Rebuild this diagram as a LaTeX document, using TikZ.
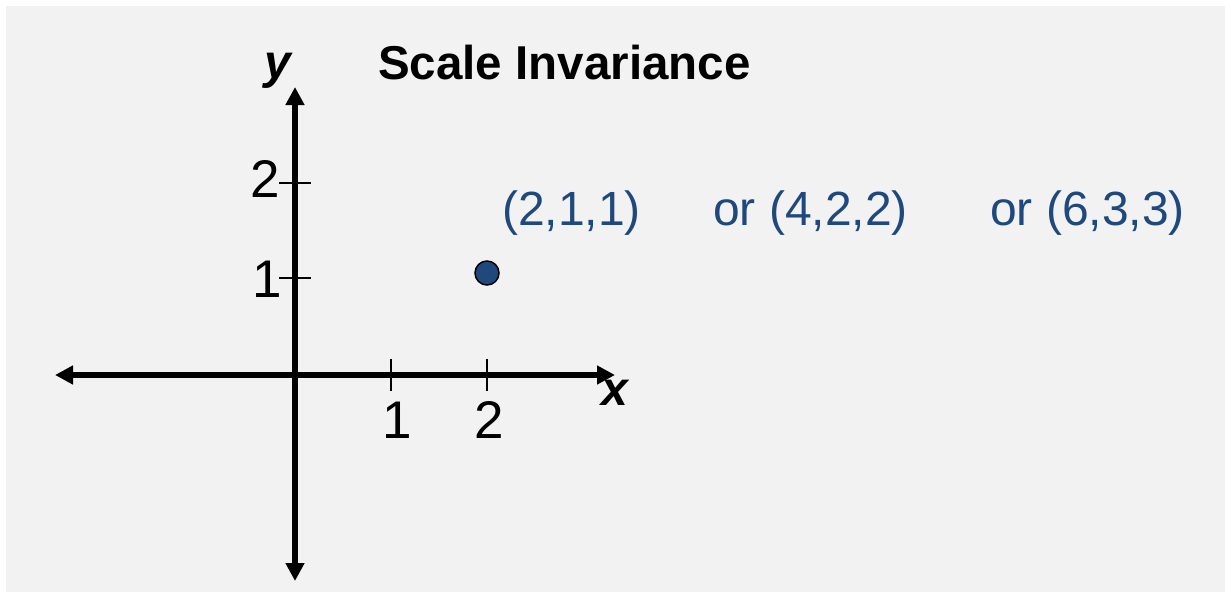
\documentclass[tikz,border=0pt]{standalone}
\usepackage{fontspec}
\setmainfont{Liberation Sans}
\usetikzlibrary{arrows.meta}
\definecolor{bggray}{HTML}{F2F2F2}
\definecolor{ptblue}{HTML}{1F497D}
\tikzset{
  axisline/.style={line width=5.5pt,{Triangle[length=18pt,width=18pt]}-{Triangle[length=18pt,width=18pt]}},
  tickline/.style={line width=2pt},
  numlabel/.style={inner sep=0pt,font=\fontsize{53}{56}\selectfont},
  axislabel/.style={inner sep=0pt,font=\fontsize{48}{52}\selectfont\bfseries\itshape},
  bluetext/.style={inner sep=0pt,anchor=base west,text=ptblue,font=\fontsize{48}{52}\selectfont},
  pointdot/.style={circle,minimum size=24pt,inner sep=0pt,fill=ptblue,draw=black,line width=1.5pt}
}
\begin{document}
\begin{tikzpicture}[x=1pt,y=-1pt]
\useasboundingbox (0,0) rectangle (1225,592);
\fill[bggray] (6,6) rectangle (1225,592);
% axes
\coordinate (ytop) at (295,87);
\coordinate (ybot) at (295,581);
\coordinate (xleft) at (55,375);
\coordinate (xright) at (615,375);
\draw[axisline] (ybot) -- (ytop);
\draw[axisline] (xleft) -- (xright);
% ticks
\coordinate (tx1a) at (391,359); \coordinate (tx1b) at (391,391);
\coordinate (tx2a) at (487,359); \coordinate (tx2b) at (487,391);
\coordinate (ty1a) at (279,278); \coordinate (ty1b) at (311,278);
\coordinate (ty2a) at (279,183); \coordinate (ty2b) at (311,183);
\draw[tickline] (tx1a) -- (tx1b);
\draw[tickline] (tx2a) -- (tx2b);
\draw[tickline] (ty1a) -- (ty1b);
\draw[tickline] (ty2a) -- (ty2b);
% labels
\node[numlabel,anchor=base] (lx1) at (397,438) {1};
\node[numlabel,anchor=base] (lx2) at (489,438) {2};
\node[numlabel,anchor=base east] (ly1) at (282,297) {1};
\node[numlabel,anchor=base east] (ly2) at (280,197) {2};
\node[axislabel,anchor=base] (xl) at (615,405) {x};
\node[axislabel,anchor=base] (yl) at (278,78) {y};
% title
\node[inner sep=0pt,anchor=base west,font=\fontsize{47.5}{52}\selectfont\bfseries] (title) at (378,79) {Scale Invariance};
% point
\node[pointdot] (pt) at (487,273) {};
% coordinates text
\node[bluetext] (t1) at (502,225) {(2,1,1)};
\node[bluetext] (t2) at (713,225) {or (4,2,2)};
\node[bluetext] (t3) at (990,225) {or (6,3,3)};
\end{tikzpicture}
\end{document}
